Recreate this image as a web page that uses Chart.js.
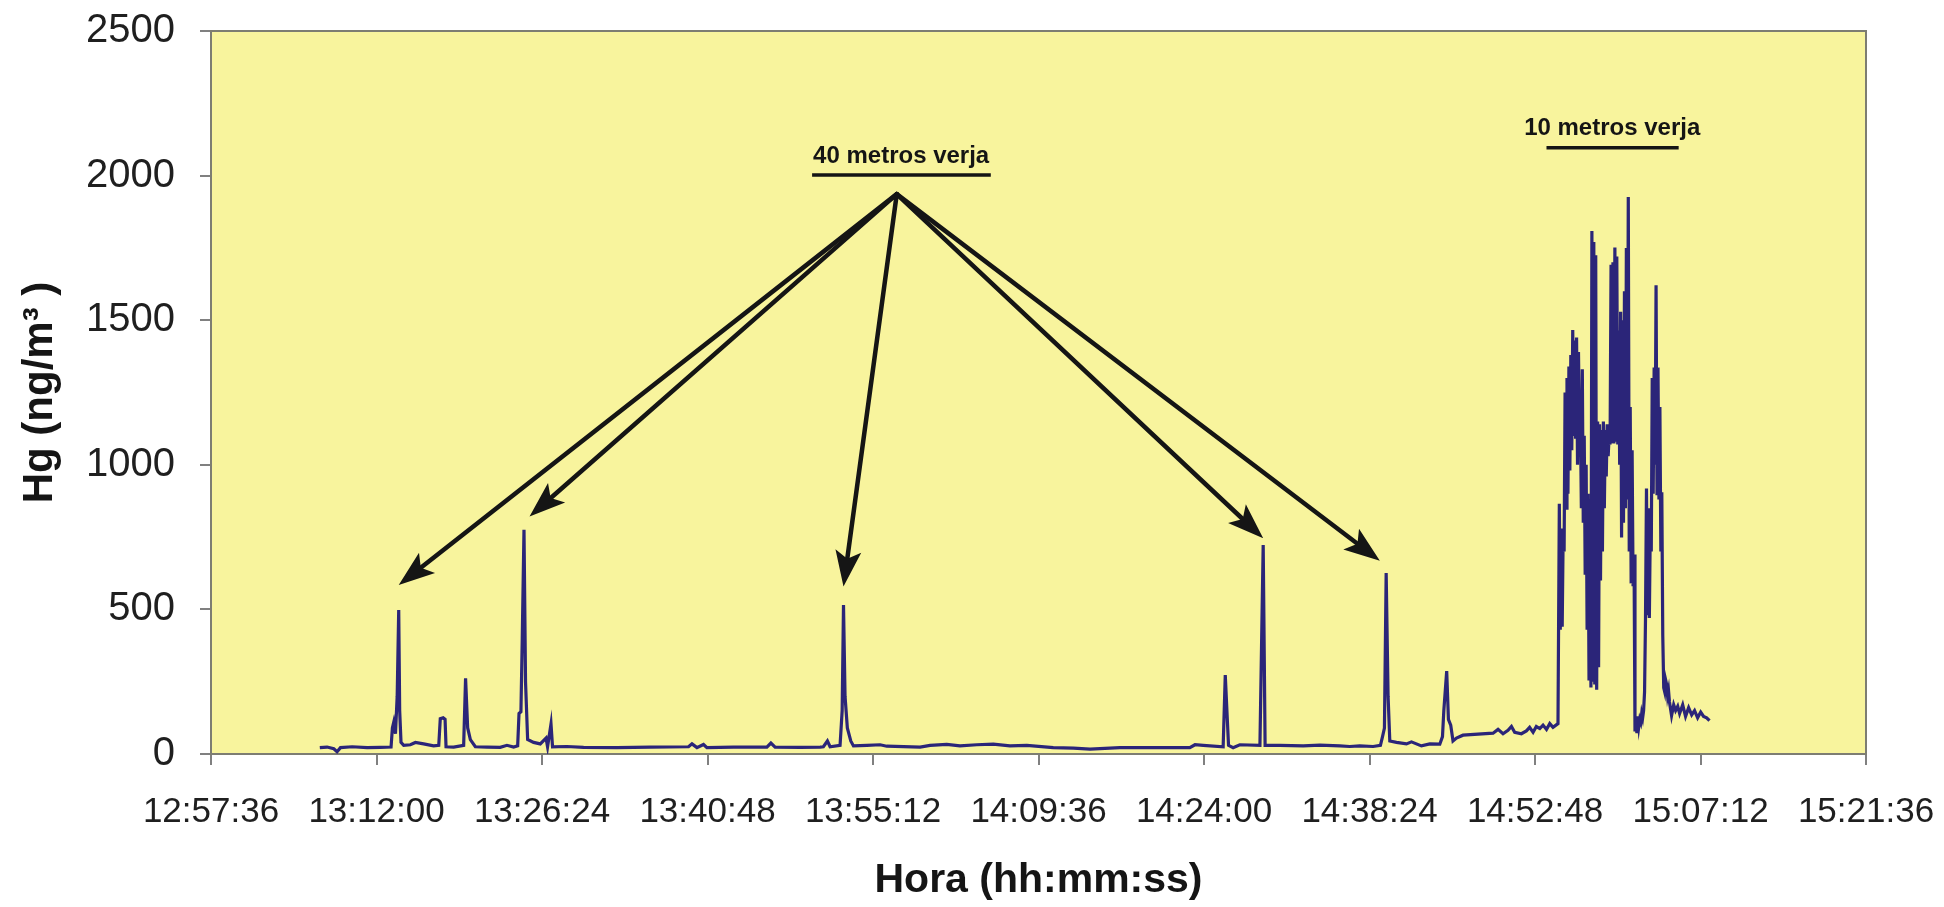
<!DOCTYPE html>
<html>
<head>
<meta charset="utf-8">
<script src="https://cdn.jsdelivr.net/npm/chart.js@4.4.1/dist/chart.umd.min.js"></script>
<style>
  body { margin: 0; background: #fff; }
  #caja { width: 1944px; height: 907px; }
</style>
</head>
<body>
<div id="caja"><canvas id="grafico"></canvas></div>
<script>
// lecturas de Hg (hora, ng/m3)
const hora = [
  '13:07:04','13:07:42','13:08:17','13:08:34','13:08:52','13:09:53','13:11:11','13:12:20','13:13:16','13:13:23',
  '13:13:30','13:13:39','13:13:48','13:13:56','13:14:01','13:14:08','13:14:22','13:14:57','13:15:23','13:16:06',
  '13:16:58','13:17:25','13:17:33','13:17:48','13:17:58','13:18:03','13:18:43','13:19:35','13:19:45','13:19:56',
  '13:20:10','13:20:36','13:21:37','13:22:46','13:23:21','13:23:56','13:24:17','13:24:24','13:24:34','13:24:41',
  '13:24:50','13:24:58','13:25:09','13:25:40','13:26:15','13:26:45','13:26:53','13:27:11','13:27:19','13:28:34',
  '13:30:01','13:32:55','13:35:49','13:39:09','13:39:27','13:39:53','13:40:27','13:40:45','13:43:04','13:45:58',
  '13:46:19','13:46:41','13:48:52','13:50:36','13:50:53','13:51:14','13:51:28','13:52:20','13:52:31','13:52:38',
  '13:52:46','13:52:58','13:53:16','13:53:30','13:54:40','13:55:49','13:56:24','13:59:18','14:00:10','14:01:37',
  '14:02:46','14:04:14','14:05:40','14:07:07','14:08:35','14:10:53','14:12:38','14:14:05','14:16:41','14:19:35',
  '14:22:46','14:23:13','14:23:56','14:25:40','14:25:51','14:26:08','14:26:32','14:27:07','14:28:52','14:29:09',
  '14:29:19','14:30:36','14:32:38','14:34:05','14:35:49','14:36:41','14:37:33','14:38:43','14:39:21','14:39:32',
  '14:39:42','14:39:51','14:40:01','14:40:10','14:40:45','14:41:37','14:42:03','14:42:55','14:43:39','14:44:31',
  '14:44:45','14:44:52','14:45:07','14:45:16','14:45:28','14:45:40','14:45:58','14:46:32','14:49:09','14:49:35',
  '14:50:01','14:50:27','14:50:45','14:51:02','14:51:37','14:52:03','14:52:20','14:52:38','14:52:55','14:53:13',
  '14:53:30','14:53:48','14:54:05','14:54:22','14:54:48',
  '14:54:55',
  '14:55:00','14:55:05','14:55:10','14:55:15','14:55:20','14:55:25','14:55:30','14:55:35','14:55:40','14:55:45','14:55:50','14:55:55',
  '14:56:00','14:56:05','14:56:10','14:56:15','14:56:20','14:56:25','14:56:30','14:56:35','14:56:40','14:56:45','14:56:50','14:56:55',
  '14:57:00','14:57:05','14:57:10','14:57:15','14:57:20','14:57:25','14:57:30','14:57:35','14:57:40','14:57:45','14:57:50','14:57:55',
  '14:58:00','14:58:05','14:58:10','14:58:15','14:58:20','14:58:25','14:58:30','14:58:35','14:58:40','14:58:45','14:58:50','14:58:55',
  '14:59:00','14:59:05','14:59:10','14:59:15','14:59:20','14:59:25','14:59:30','14:59:35','14:59:40','14:59:45','14:59:50','14:59:55',
  '15:00:00','15:00:05','15:00:10','15:00:15','15:00:20','15:00:25','15:00:30','15:00:35','15:00:40','15:00:45','15:00:50','15:00:55',
  '15:01:00','15:01:05','15:01:10','15:01:15','15:01:20','15:01:25','15:01:30','15:01:35','15:01:40','15:01:45','15:01:50','15:01:55',
  '15:02:00','15:02:05','15:02:10','15:02:15','15:02:20','15:02:25','15:02:30','15:02:35','15:02:40','15:02:45','15:02:50','15:02:55',
  '15:03:00','15:03:05','15:03:10','15:03:15','15:03:20','15:03:25','15:03:30','15:03:35','15:03:40','15:03:45','15:03:50','15:03:55',
  '15:04:00','15:04:05','15:04:10','15:04:15','15:04:20','15:04:25','15:04:30',
  '15:04:41','15:04:52','15:05:02','15:05:13','15:05:23','15:05:39','15:05:54','15:06:10','15:06:26','15:06:41',
  '15:06:57','15:07:13','15:07:28','15:07:44','15:07:59'
]
const hg = [
  22, 24, 18, 8, 22, 25, 22, 23, 24, 90,
  110, 70, 200, 498, 150, 40, 30, 32, 40, 35,
  28, 30, 122, 125, 120, 25, 24, 30, 262, 90,
  50, 25, 24, 23, 30, 24, 28, 140, 146, 400,
  775, 250, 50, 40, 35, 55, 25, 104, 25, 26,
  23, 22, 24, 25, 35, 22, 33, 22, 24, 24,
  38, 24, 23, 24, 25, 45, 25, 30, 150, 515,
  200, 90, 45, 28, 30, 32, 27, 24, 30, 33,
  28, 32, 34, 28, 30, 22, 20, 17, 22, 22,
  22, 32, 30, 25, 273, 30, 22, 32, 30, 723,
  30, 30, 28, 31, 28, 26, 28, 26, 30, 60,
  90, 626, 200, 45, 40, 35, 42, 28, 35, 34,
  60, 150, 287, 120, 100, 45, 55, 65, 72, 85,
  70, 82, 95, 75, 70, 80, 92, 75, 95, 88,
  100, 85, 105, 92, 105,
  865,
  430, 780, 440, 760, 700, 1250, 850, 1300, 900, 1340, 980, 1380,
  1050, 1466, 1100, 1430, 1090, 1440, 1000, 1390, 1120, 1160, 850, 1330,
  800, 1100, 620, 1000, 430, 900, 260, 880, 230, 1808, 250, 1770,
  240, 1725, 222, 1150, 300, 1140, 600, 1120, 700, 1150, 850, 1120,
  960, 1140, 1030, 1100, 1070, 1692, 1080, 1700, 1074, 1751, 1080, 1720,
  1070, 1464, 1000, 1529, 749, 1500, 800, 1600, 850, 1750, 880, 1926,
  700, 1200, 590, 1050, 580, 690, 78, 110, 72, 130, 95, 120,
  110, 140, 125, 150, 215, 475, 918, 480, 850, 470, 790, 700,
  1300, 900, 1336, 1000, 1621, 900, 1336, 880, 1200, 700, 905, 410,
  229, 215, 256, 241, 202, 220, 180,
  133, 170, 150, 165, 140, 170, 130, 160, 135, 150,
  125, 145, 130, 125, 115
]

const ticksHora = ['12:57:36', '13:12:00', '13:26:24', '13:40:48', '13:55:12', '14:09:36',
  '14:24:00', '14:38:24', '14:52:48', '15:07:12', '15:21:36']
const ticksHg = [0, 500, 1000, 1500, 2000, 2500]

// flechas: todas salen del mismo vertice
const verticeHora = '13:57:16'
const verticeHg = 1936
const flechaHora = ['13:13:56', '13:25:19', '13:52:38', '14:29:09', '14:39:18']
const flechaHg = [584, 821, 579, 746, 668]

// rotulos con su raya
const rotulos = ['40 metros verja', '10 metros verja']
const rotuloHora = ['13:57:39', '14:59:31']
const rotuloHg = [2068, 2165]
const rayaDesde = ['13:49:54', '14:53:48']
const rayaHasta = ['14:05:27', '15:05:18']
const rayaHg = [2002, 2096]

if (hora.length != hg.length) console.error('hora/hg distinto largo', hora.length, hg.length)

function segundos(h) {
  let p = h.split(':').map(Number)
  return p[0] * 3600 + p[1] * 60 + p[2]
}
function formatoHora(s) {
  let a = Math.floor(s / 3600), b = Math.floor((s % 3600) / 60), c = s % 60
  return [a, b, c].map(n => String(n).padStart(2, '0')).join(':')
}

let puntos = hora.map((h, i) => ({ x: segundos(h), y: hg[i] }))
let fuente = '"Liberation Sans", Arial, sans-serif'

// sin relleno extra de las etiquetas, el area la fija el layout
function sinRelleno(s) {
  s.paddingTop = 0
  s.paddingBottom = 0
  s.paddingLeft = 0
  s.paddingRight = 0
}

const fondo = {
  id: 'fondo',
  beforeDraw(chart) {
    let { ctx, chartArea: a } = chart
    ctx.save()
    ctx.fillStyle = '#f8f49d'
    ctx.fillRect(a.left, a.top, a.right - a.left, a.bottom - a.top)
    ctx.restore()
  },
  beforeDatasetsDraw(chart) {
    let { ctx, chartArea: a } = chart
    ctx.save()
    ctx.strokeStyle = '#7d7d72'
    ctx.lineWidth = 2
    ctx.strokeRect(a.left, a.top, a.right - a.left, a.bottom - a.top)
    ctx.restore()
  }
}

function flecha(ctx, x0, y0, x1, y1) {
  let ang = Math.atan2(y1 - y0, x1 - x0)
  let largo = 36, ancho = 13
  let c = Math.cos(ang), s = Math.sin(ang)
  let bx = x1 - largo * c, by = y1 - largo * s
  ctx.beginPath()
  ctx.moveTo(x0, y0)
  ctx.lineTo(x1 - largo * 0.7 * c, y1 - largo * 0.7 * s)
  ctx.stroke()
  ctx.beginPath()
  ctx.moveTo(x1, y1)
  ctx.lineTo(bx + ancho * s, by - ancho * c)
  ctx.lineTo(x1 - largo * 0.78 * c, y1 - largo * 0.78 * s)
  ctx.lineTo(bx - ancho * s, by + ancho * c)
  ctx.closePath()
  ctx.fill()
}

const anotaciones = {
  id: 'anotaciones',
  afterDatasetsDraw(chart) {
    let { ctx, scales: { x, y } } = chart
    ctx.save()
    ctx.strokeStyle = '#151515'
    ctx.fillStyle = '#151515'
    ctx.lineWidth = 4.5
    ctx.lineCap = 'round'
    let vx = x.getPixelForValue(segundos(verticeHora))
    let vy = y.getPixelForValue(verticeHg)
    flechaHora.forEach((h, i) => {
      flecha(ctx, vx, vy, x.getPixelForValue(segundos(h)), y.getPixelForValue(flechaHg[i]))
    })

    ctx.lineWidth = 3.5
    ctx.lineCap = 'butt'
    ctx.font = 'bold 24px ' + fuente
    ctx.textAlign = 'center'
    ctx.textBaseline = 'middle'
    rotulos.forEach((t, i) => {
      ctx.fillText(t, x.getPixelForValue(segundos(rotuloHora[i])), y.getPixelForValue(rotuloHg[i]))
      let ry = y.getPixelForValue(rayaHg[i])
      ctx.beginPath()
      ctx.moveTo(x.getPixelForValue(segundos(rayaDesde[i])), ry)
      ctx.lineTo(x.getPixelForValue(segundos(rayaHasta[i])), ry)
      ctx.stroke()
    })
    ctx.restore()
  }
}

new Chart(document.getElementById('grafico'), {
  type: 'line',
  data: {
    datasets: [{
      data: puntos,
      borderColor: '#2b2579',
      borderWidth: 3.2,
      pointRadius: 0,
      tension: 0,
      fill: false
    }]
  },
  options: {
    responsive: true,
    maintainAspectRatio: false,
    animation: false,
    devicePixelRatio: 1,
    layout: { padding: { top: 31, right: 78, bottom: 0, left: 0 } },
    plugins: { legend: { display: false }, tooltip: { enabled: false } },
    scales: {
      x: {
        type: 'linear',
        min: segundos(ticksHora[0]),
        max: segundos(ticksHora[ticksHora.length - 1]),
        afterBuildTicks: s => { s.ticks = ticksHora.map(h => ({ value: segundos(h) })) },
        afterFit: s => { s.height = 153; sinRelleno(s) },
        grid: { drawOnChartArea: false, tickLength: 11, color: '#808080', lineWidth: 2 },
        border: { color: '#7d7d72', width: 2 },
        ticks: {
          autoSkip: false, maxRotation: 0, minRotation: 0, padding: 26,
          color: '#1f1f1f', font: { family: fuente, size: 35 },
          callback: v => formatoHora(v)
        },
        title: {
          display: true, text: 'Hora (hh:mm:ss)', color: '#151515',
          font: { family: fuente, size: 41, weight: 'bold' }, padding: { top: 0, bottom: 2 }
        }
      },
      y: {
        min: 0,
        max: 2500,
        afterBuildTicks: s => { s.ticks = ticksHg.map(v => ({ value: v })) },
        afterFit: s => { s.width = 211; sinRelleno(s) },
        grid: { drawOnChartArea: false, tickLength: 11, color: '#808080', lineWidth: 2 },
        border: { color: '#7d7d72', width: 2 },
        ticks: {
          padding: 25, color: '#1f1f1f', font: { family: fuente, size: 40 },
          callback: v => String(v)
        },
        title: {
          display: true, text: 'Hg (ng/m³ )', color: '#151515',
          font: { family: fuente, size: 42, weight: 'bold' }, padding: { top: 15, bottom: 0 }
        }
      }
    }
  },
  plugins: [fondo, anotaciones]
})
</script>
</body>
</html>
